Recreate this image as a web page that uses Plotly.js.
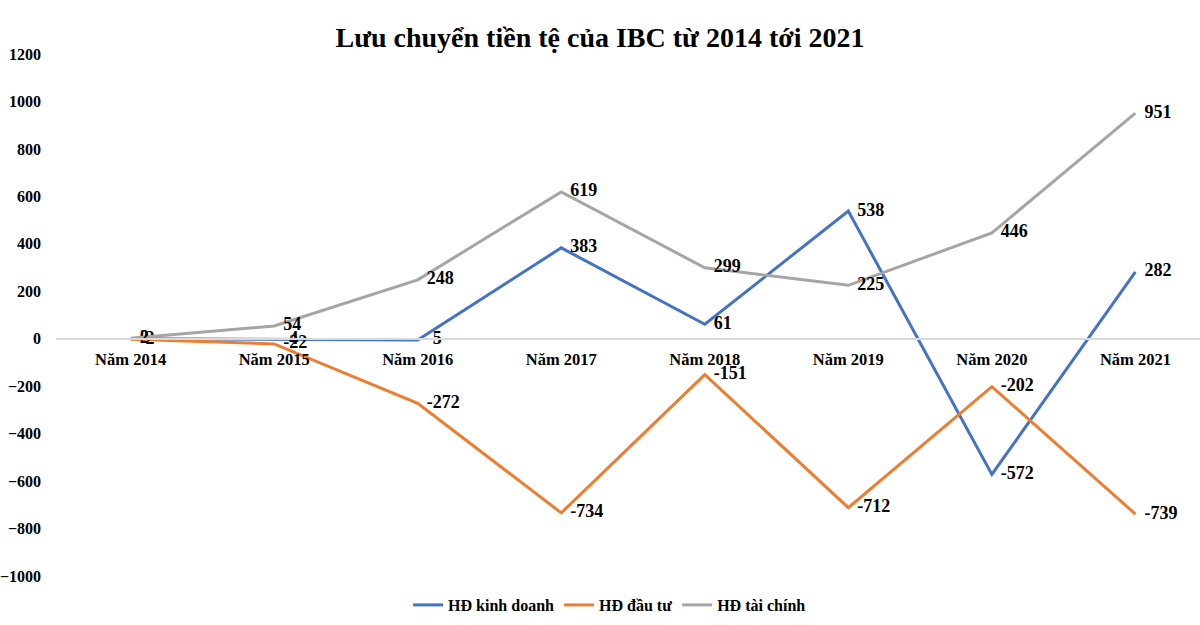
<!DOCTYPE html>
<html>
<head>
<meta charset="utf-8">
<script src="https://cdn.plot.ly/plotly-3.0.1.min.js"></script>
<style>
  html, body { margin: 0; padding: 0; background: #fff; }
  #chart { width: 1200px; height: 625px; }
</style>
</head>
<body>
<div id="chart"></div>
<script>
/* Lưu chuyển tiền tệ IBC 2014–2021 */
const years = ['Năm 2014', 'Năm 2015', 'Năm 2016', 'Năm 2017', 'Năm 2018', 'Năm 2019', 'Năm 2020', 'Năm 2021'];
const hdKinhDoanh = [0, -4, -5, 383, 61, 538, -572, 282];
const hdDauTu     = [-2, -22, -272, -734, -151, -712, -202, -739];
const hdTaiChinh  = [2, 54, 248, 619, 299, 225, 446, 951];

const FONT = 'Liberation Serif, Times New Roman, serif';

function series(name, y, color) {
  return {
    x: years, y: y, name: name, type: 'scatter', mode: 'lines+text',
    line: { color: color, width: 3 },
    // en space keeps the label a little off the point, as in Excel
    text: y.map(v => '\u2002' + v), textposition: 'middle right',
    textfont: { family: FONT, size: 18, color: '#000', weight: 'bold' },
    cliponaxis: false,
    hovertemplate: name + '<br>%{x}: %{y}<extra></extra>'
  };
}

const traces = [
  series('HĐ kinh doanh', hdKinhDoanh, '#4472C4'),
  series('HĐ đầu tư', hdDauTu, '#ED7D31'),
  series('HĐ tài chính', hdTaiChinh, '#A5A5A5')
];

const layout = {
  width: 1200, height: 625,
  font: { family: FONT, size: 16, color: '#000', weight: 'bold' },
  paper_bgcolor: '#fff', plot_bgcolor: '#fff',
  margin: { l: 56, r: 0, t: 54, b: 49, autoexpand: false },
  title: { text: 'Lưu chuyển tiền tệ của IBC từ 2014 tới 2021', x: 0.5, xanchor: 'center', y: 0.94, yanchor: 'middle',
           font: { family: FONT, size: 28, color: '#000', weight: 'bold' } },
  xaxis: {
    type: 'category', range: [-0.52, 7.45],
    anchor: 'free', position: 1000 / 2200,
    showline: true, linecolor: '#d9d9d9', linewidth: 1.5,
    showgrid: false, zeroline: false, ticks: '', ticklen: 0, ticklabelstandoff: 6,
    tickfont: { family: FONT, size: 16.5, color: '#000', weight: 'bold' }
  },
  yaxis: {
    range: [-1000, 1200], dtick: 200, showgrid: false, zeroline: false,
    showline: false, ticks: '', ticklabelstandoff: 14,
    tickfont: { family: FONT, size: 16, color: '#000', weight: 'bold' }
  },
  showlegend: true,
  legend: { orientation: 'h', xref: 'container', yref: 'container',
            x: 0.508, xanchor: 'center', y: 0.032, yanchor: 'middle',
            font: { family: FONT, size: 16, color: '#000', weight: 'bold' }, itemwidth: 30 }
};

Plotly.newPlot('chart', traces, layout, { displayModeBar: false });
</script>
</body>
</html>
